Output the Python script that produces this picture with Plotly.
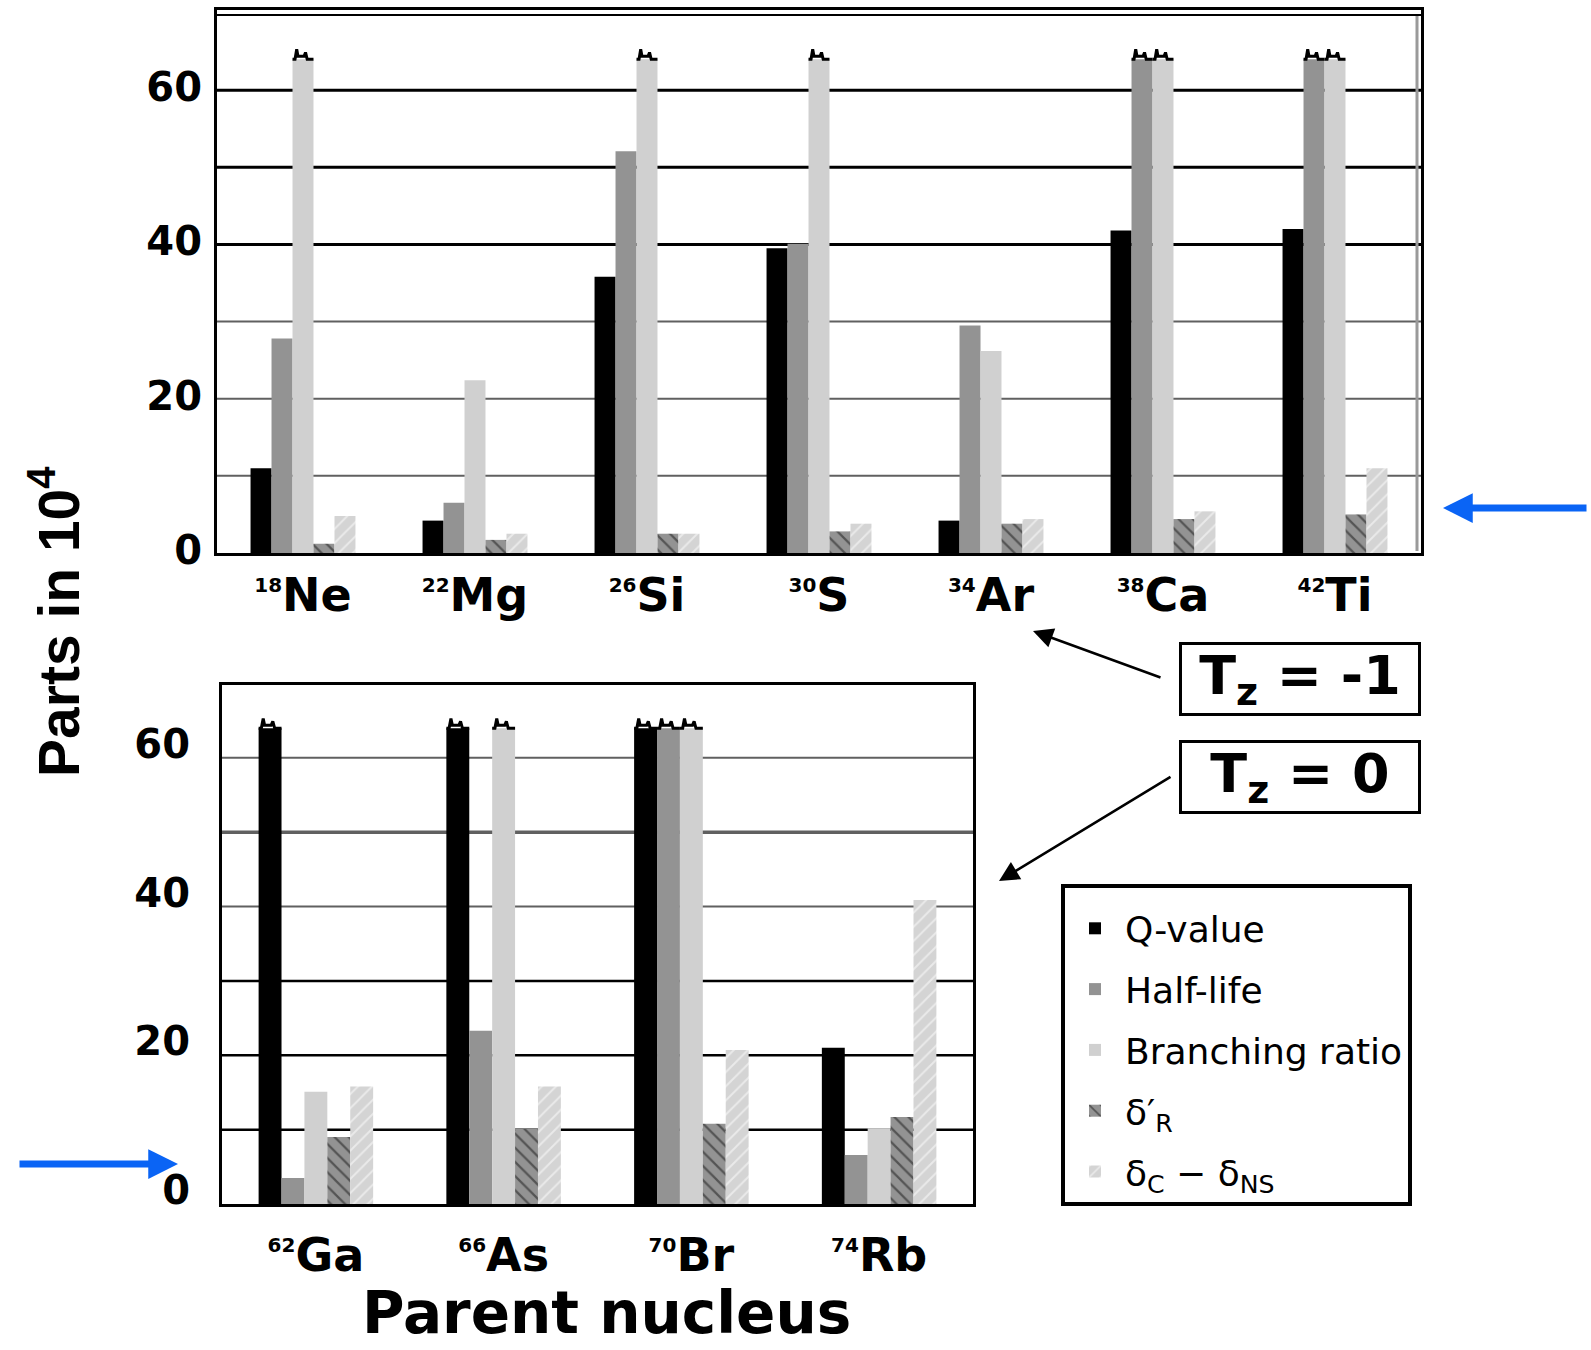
import math
import plotly.graph_objects as go

# ---------------- data (parts in 10^4) ----------------
OFF = math.inf          # off-scale value (bar drawn broken at the top)
CAP = 64.0              # height at which off-scale bars are cut

TOP_MASS = ["18", "22", "26", "30", "34", "38", "42"]
TOP_SYM = ["Ne", "Mg", "Si", "S", "Ar", "Ca", "Ti"]
BOT_MASS = ["62", "66", "70", "74"]
BOT_SYM = ["Ga", "As", "Br", "Rb"]

SERIES = ["Q-value", "Half-life", "Branching ratio",
          "δ′<sub>R</sub>", "δ<sub>C</sub> − δ<sub>NS</sub>"]

# T_z = -1 panel
Q_TOP = [11.0, 4.2, 35.8, 39.5, 4.2, 41.8, 42.0]
HL_TOP = [27.8, 6.5, 52.1, 40.1, 29.5, OFF, OFF]
BR_TOP = [OFF, 22.4, OFF, OFF, 26.2, OFF, OFF]
DR_TOP = [1.2, 1.7, 2.5, 2.8, 3.8, 4.4, 5.0]
DC_TOP = [4.8, 2.5, 2.5, 3.8, 4.4, 5.4, 11.0]

# T_z = 0 panel
Q_BOT = [OFF, OFF, OFF, 21.0]
HL_BOT = [3.5, 23.3, OFF, 6.6]
BR_BOT = [15.1, OFF, OFF, 10.2]
DR_BOT = [9.0, 10.1, 10.8, 11.7]
DC_BOT = [15.8, 15.8, 20.7, 40.9]

GRID_LEVELS = [10, 20, 30, 40, 50, 60]
Y_TICKS = [0, 20, 40, 60]

# ---------------- style ----------------
W, H = 1591, 1350
def px(x):
    return x / W
def py(y):
    return 1 - y / H

COLORS = ["#000000", "#939393", "#d0d0d0", "#939393", "#d4d4d4"]
PATTERNS = [None, None, None,
            dict(shape="\\", fgcolor="#151515", size=10, solidity=0.22),
            dict(shape="/", fgcolor="#ffffff", size=10, solidity=0.2)]
BAR_W = 0.122
ZIG_F = [0.0, 0.12, 0.2, 0.26, 0.33, 0.55, 0.62, 0.7, 1.0]
ZIG_D = [0.0, 0.0, 1.3, 0.4, 0.4, 0.4, 0.9, 0.0, 0.0]

BOLD = "DejaVu Sans"

fig = go.Figure()

panels = [
    dict(xa="x", ya="y", mass=TOP_MASS, sym=TOP_SYM,
         vals=[Q_TOP, HL_TOP, BR_TOP, DR_TOP, DC_TOP], legend=True),
    dict(xa="x2", ya="y2", mass=BOT_MASS, sym=BOT_SYM,
         vals=[Q_BOT, HL_BOT, BR_BOT, DR_BOT, DC_BOT], legend=False),
]

for p in panels:
    cats = list(range(len(p["sym"])))
    zx, zy = [], []
    for k, (name, vals) in enumerate(zip(SERIES, p["vals"])):
        off = (k - 2.5) * BAR_W
        marker = dict(color=COLORS[k], line=dict(width=0))
        if PATTERNS[k]:
            marker["pattern"] = PATTERNS[k]
        fig.add_trace(go.Bar(
            x=cats, y=[min(v, CAP) for v in vals], width=BAR_W, offset=off,
            name=name, marker=marker, xaxis=p["xa"], yaxis=p["ya"],
            legendgroup=name, showlegend=p["legend"], hoverinfo="skip"))
        for i, v in enumerate(vals):
            if v > CAP:
                for f, d in zip(ZIG_F, ZIG_D):
                    zx.append(i + off + f * BAR_W)
                    zy.append(CAP + d)
                zx.append(None)
                zy.append(None)
    fig.add_trace(go.Scatter(x=zx, y=zy, mode="lines",
                             line=dict(color="black", width=3),
                             xaxis=p["xa"], yaxis=p["ya"],
                             showlegend=False, hoverinfo="skip"))


def ticktext(mass, sym):
    return [f'<sup><span style="font-size:20px">{m}</span></sup>{s}'
            for m, s in zip(mass, sym)]


axis_common = dict(showgrid=False, zeroline=False, showline=True, mirror=True,
                   linecolor="black", linewidth=3, ticks="", automargin=False)

fig.update_layout(
    width=W, height=H, margin=dict(l=0, r=0, t=0, b=0, autoexpand=False),
    paper_bgcolor="white", plot_bgcolor="white", barmode="overlay",
    xaxis=dict(domain=[px(217), px(1421)], range=[-0.5, len(TOP_SYM) - 0.5],
               tickvals=list(range(len(TOP_SYM))),
               ticktext=ticktext(TOP_MASS, TOP_SYM),
               tickfont=dict(family=BOLD, size=46, color="black", weight="bold"),
               ticklabelstandoff=0, anchor="y", **axis_common),
    yaxis=dict(domain=[py(553), py(10)], range=[0, 70.4], tickvals=Y_TICKS,
               tickfont=dict(family=BOLD, size=40, color="black", weight="bold"),
               ticklabelstandoff=4, ticklabelshift=-3, anchor="x", **axis_common),
    xaxis2=dict(domain=[px(222), px(973)], range=[-0.5, len(BOT_SYM) - 0.5],
                tickvals=list(range(len(BOT_SYM))),
                ticktext=ticktext(BOT_MASS, BOT_SYM),
                tickfont=dict(family=BOLD, size=46, color="black", weight="bold"),
                ticklabelstandoff=9, anchor="y2", **axis_common),
    yaxis2=dict(domain=[py(1204), py(685)], range=[0, 69.8], tickvals=Y_TICKS,
                tickfont=dict(family=BOLD, size=40, color="black", weight="bold"),
                ticklabelstandoff=21, ticklabelshift=-14, anchor="x2", **axis_common),
    legend=dict(x=px(1061), y=py(884), xanchor="left", yanchor="top",
                bgcolor="white", bordercolor="black", borderwidth=4,
                font=dict(family="DejaVu Sans", size=36, color="black"),
                title=dict(text=" ", font=dict(size=8)),
                tracegroupgap=11, itemwidth=50),
)

shapes = []
top_grid_colors = ["#606060", "#606060", "#606060", "#000000", "#000000", "#000000"]
top_grid_widths = [2, 2, 2, 3, 3, 3]
bot_grid_colors = ["#000000", "#000000", "#000000", "#606060", "#606060", "#606060"]
bot_grid_widths = [2.5, 2.5, 2.5, 2, 3.5, 2]
for lvl, c, w in zip(GRID_LEVELS, top_grid_colors, top_grid_widths):
    shapes.append(dict(type="line", xref="x domain", yref="y", x0=0, x1=1,
                       y0=lvl, y1=lvl, line=dict(color=c, width=w), layer="below"))
for lvl, c, w in zip(GRID_LEVELS, bot_grid_colors, bot_grid_widths):
    shapes.append(dict(type="line", xref="x2 domain", yref="y2", x0=0, x1=1,
                       y0=lvl, y1=lvl, line=dict(color=c, width=w), layer="below"))
# double top border and grey inner right border of the upper panel
shapes.append(dict(type="line", xref="paper", yref="paper", x0=px(217), x1=px(1421),
                   y0=py(15), y1=py(15), line=dict(color="black", width=2)))
shapes.append(dict(type="line", xref="paper", yref="paper", x0=px(1417), x1=px(1417),
                   y0=py(16), y1=py(551), line=dict(color="#9a9a9a", width=3)))
fig.update_layout(shapes=shapes)

ann = []
ann.append(dict(text="<b>Parent nucleus</b>", xref="paper", yref="paper",
                x=px(606), y=py(1313), xanchor="center", yanchor="middle",
                showarrow=False, font=dict(family=BOLD, size=58, color="black")))
ann.append(dict(text="<b>Parts in 10<sup>4</sup></b>", xref="paper", yref="paper",
                x=px(55), y=py(622), xanchor="center", yanchor="middle",
                showarrow=False, textangle=-90,
                font=dict(family="Liberation Sans", size=57, color="black")))
for txt, cy in [("T<sub>z</sub> = -1", 679), ("T<sub>z</sub> = 0", 777)]:
    ann.append(dict(text=f"<b>{txt}</b>", xref="paper", yref="paper",
                    x=px(1300), y=py(cy), xanchor="center", yanchor="middle",
                    showarrow=False, width=236, height=68,
                    borderpad=0, bordercolor="black", borderwidth=3, bgcolor="white",
                    font=dict(family=BOLD, size=54, color="black")))
# black pointer arrows
for hx, hy, tx, ty in [(1033, 631, 1162, 678), (999, 881, 1172, 776)]:
    ann.append(dict(text="", xref="paper", yref="paper", x=px(hx), y=py(hy),
                    ax=tx - hx, ay=ty - hy, showarrow=True, arrowhead=2,
                    arrowsize=1.6, arrowwidth=2.5, arrowcolor="black", standoff=0))
# blue arrows
for hx, hy, tx, ty in [(1443, 508, 1588, 508), (178, 1164, 18, 1164)]:
    ann.append(dict(text="", xref="paper", yref="paper", x=px(hx), y=py(hy),
                    ax=tx - hx, ay=ty - hy, showarrow=True, arrowhead=2,
                    arrowsize=0.85, arrowwidth=7, arrowcolor="#0a64f5", standoff=0))
fig.update_layout(annotations=ann)

fig.write_html("out.html")
